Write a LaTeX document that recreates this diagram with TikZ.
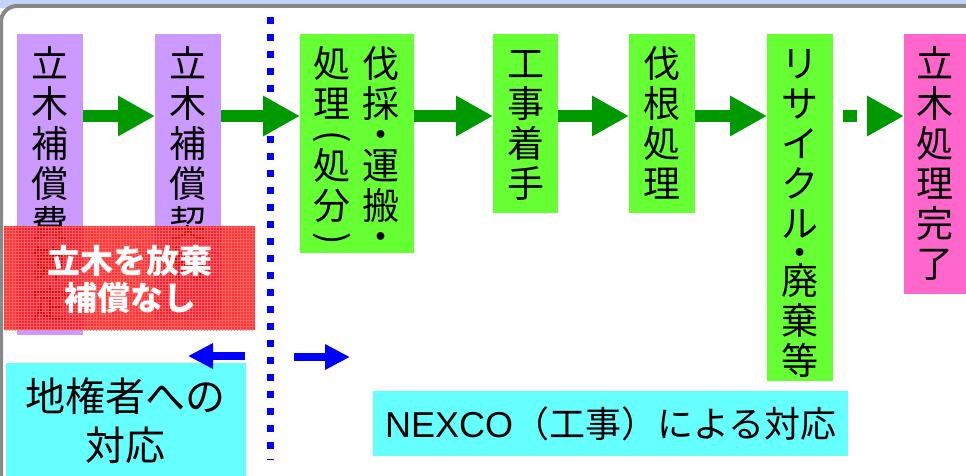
\documentclass[tikz,border=0pt]{standalone}
\usepackage{fontspec}
\setmainfont{Liberation Sans}
\newfontfamily\cjk{Noto Sans CJK JP}
\usetikzlibrary{arrows.meta,patterns}
\definecolor{cpurple}{HTML}{CC99FF}
\definecolor{cgreen}{HTML}{66FF33}
\definecolor{carrow}{HTML}{009900}
\definecolor{cpink}{HTML}{FF66CC}
\definecolor{ccyan}{HTML}{66FFFF}
\definecolor{cblue}{HTML}{0000FF}
\definecolor{ctop}{HTML}{C4D4F8}
\definecolor{cframe}{HTML}{888888}
\definecolor{cred}{HTML}{FF0808}
\definecolor{cgrid}{HTML}{FF6A6A}
\newcommand\vst{\rule{0pt}{32pt}}
\newcommand\vpar[1]{\rotatebox[origin=c]{-90}{#1}}
\begin{document}
\begin{tikzpicture}[x=1pt,y=-1pt,
  box/.style={anchor=north west, inner sep=0pt, outer sep=0pt},
  vt/.style={font=\cjk\fontsize{37}{40}\selectfont, align=center, inner sep=0pt, anchor=north},
  garrow/.style={draw=carrow, line width=12pt, -{Triangle[length=37pt,width=38pt]}},
  barrow/.style={draw=cblue, line width=8pt, -{Triangle[length=25pt,width=24pt]}},
  htext/.style={font=\cjk\fontsize{40}{49}\selectfont, align=center, inner sep=0pt}
]
\useasboundingbox (0,0) rectangle (966,476);
% background
\fill[ctop] (0,0) rectangle (966,8);
\draw[cframe, line width=4pt, fill=white, rounded corners=16pt] (1,6) rectangle (1010,540);

% purple boxes
\node[box, fill=cpurple, minimum width=66pt, minimum height=301pt] (p1) at (17,34) {};
\node[vt] (p1t) at (50,45) {\vst 立\\木\\補\\償\\費\\算\\定};
\node[box, fill=cpurple, minimum width=66pt, minimum height=286pt] (p2) at (155,34) {};
\node[vt] (p2t) at (188,45) {\vst 立\\木\\補\\償\\契\\約};

% green boxes
\node[box, fill=cgreen, minimum width=114pt, minimum height=219pt] (g1) at (300,34) {};
\node[vt] (g1l) at (332,45) {\vst 処\\理\\[-9pt]\vpar{(}\\[-9pt]処\\分\\[-9pt]\vpar{)}};
\node[vt] (g1r) at (381,45) {\vst 伐\\採\\[-9pt]・\\[-9pt]運\\搬\\[-9pt]・};
\node[box, fill=cgreen, minimum width=65pt, minimum height=179pt] (g2) at (493,34) {};
\node[vt] (g2t) at (525.5,45) {\vst 工\\事\\着\\手};
\node[box, fill=cgreen, minimum width=66pt, minimum height=179pt] (g3) at (629,34) {};
\node[vt] (g3t) at (662,45) {\vst 伐\\根\\処\\理};
\node[box, fill=cgreen, minimum width=66pt, minimum height=347pt] (g4) at (767,34) {};
\node[vt] (g4t) at (800,45) {\vst リ\\サ\\イ\\ク\\ル\\[-11pt]・\\[-12pt]廃\\棄\\等};
\node[box, fill=cpink, minimum width=62pt, minimum height=260pt] (pk) at (904,34) {};
\node[vt] (pkt) at (935,45) {\vst 立\\木\\処\\理\\完\\了};

% red overlay
\node[box, fill=cred, fill opacity=0.82, minimum width=251pt, minimum height=104pt] (rb) at (4,226) {};
\fill[pattern=grid, pattern color=cgrid, opacity=0.8] (rb.north west) rectangle (rb.south east);
\node[font=\cjk\bfseries\fontsize{33}{37}\selectfont, text=white, align=center, inner sep=0pt] (rbt) at (130,279) {立木を放棄\\補償なし};

% cyan boxes
\node[box, fill=ccyan, minimum width=240pt, minimum height=120pt] (c1) at (6,363) {};
\node[htext] (c1t) at (125,421) {地権者への\\対応};
\node[box, fill=ccyan, minimum width=475pt, minimum height=65pt] (c2) at (373,391) {};
\node[inner sep=0pt, font=\fontsize{36}{40}\selectfont] (c2t) at (c2.center) {NEXCO{\cjk （工事）による対応}};

% dotted divider
\coordinate (dt) at (270.5,17);
\coordinate (db) at (270.5,460);
\draw[cblue, line width=7pt, dash pattern=on 7pt off 10pt] (dt) -- (db);

% green arrows
\coordinate (ay) at (0,116);
\draw[garrow] (p1.east |- ay) -- (p2.west |- ay);
\draw[garrow] (p2.east |- ay) -- (g1.west |- ay);
\draw[garrow] (g1.east |- ay) -- (g2.west |- ay);
\draw[garrow] (g2.east |- ay) -- (g3.west |- ay);
\draw[garrow] (g3.east |- ay) -- (g4.west |- ay);
\draw[garrow, dash pattern=on 14pt off 19pt, dash phase=23pt] (g4.east |- ay) -- (pk.west |- ay);

% blue arrows
\coordinate (l1) at (245,356);
\coordinate (l2) at (188,356);
\draw[barrow] (l1) -- (l2);
\coordinate (r1) at (294,357);
\coordinate (r2) at (350,357);
\draw[barrow] (r1) -- (r2);
\end{tikzpicture}
\end{document}
